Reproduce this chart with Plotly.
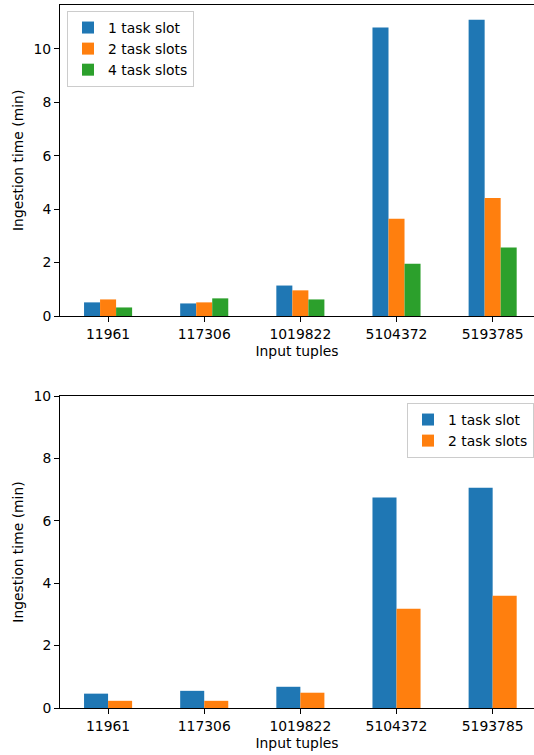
import plotly.graph_objects as go

categories = ["11961", "117306", "1019822", "5104372", "5193785"]

top_series_names = ["1 task slot", "2 task slots", "4 task slots"]
top_1slot = [0.51, 0.47, 1.14, 10.80, 11.09]
top_2slots = [0.62, 0.51, 0.96, 3.64, 4.42]
top_4slots = [0.32, 0.66, 0.62, 1.96, 2.56]

bottom_series_names = ["1 task slot", "2 task slots"]
bottom_1slot = [0.46, 0.55, 0.68, 6.75, 7.06]
bottom_2slots = [0.23, 0.23, 0.49, 3.18, 3.60]

colors = ["#1f77b4", "#ff7f0e", "#2ca02c"]
FONT = "DejaVu Sans"
FS = 13.9

fig = go.Figure()
for name, vals, c in zip(top_series_names, [top_1slot, top_2slots, top_4slots], colors):
    fig.add_trace(go.Bar(x=categories, y=vals, name=name, marker=dict(color=c, line=dict(width=0)),
                         xaxis="x", yaxis="y", legend="legend", offsetgroup=name))
for name, vals, c in zip(bottom_series_names, [bottom_1slot, bottom_2slots], colors):
    fig.add_trace(go.Bar(x=categories, y=vals, name=name, marker=dict(color=c, line=dict(width=0)),
                         xaxis="x2", yaxis="y2", legend="legend2", offsetgroup=name))

H_PLOT = 708.0
def dom(top_px, bot_px):
    return [(H_PLOT - bot_px) / H_PLOT, (H_PLOT - top_px) / H_PLOT]

axis_common = dict(showline=True, linecolor="black", linewidth=1, ticks="outside",
                   ticklen=5, tickwidth=1, tickcolor="black", showgrid=False, zeroline=False,
                   automargin=False,
                   tickfont=dict(family=FONT, size=FS, color="black"))

xcommon = dict(axis_common, type="category", range=[-0.5, 4.43], mirror=True,
               title=dict(text="Input tuples", font=dict(family=FONT, size=FS, color="black"), standoff=5))
ycommon = dict(axis_common, mirror=False,
               title=dict(text="Ingestion time (min)", font=dict(family=FONT, size=FS, color="black"), standoff=6))

fig.update_layout(
    width=534, height=755,
    margin=dict(l=60, r=0, t=0, b=47, autoexpand=False),
    plot_bgcolor="white", paper_bgcolor="white",
    barmode="group", bargap=0.5, bargroupgap=0,
    font=dict(family=FONT, size=FS, color="black"),
    xaxis=dict(xcommon, anchor="y", domain=[0, 1]),
    yaxis=dict(ycommon, anchor="x", domain=dom(4.7, 316), range=[0, 11.65], tickvals=[0, 2, 4, 6, 8, 10]),
    xaxis2=dict(xcommon, anchor="y2", domain=[0, 1]),
    yaxis2=dict(ycommon, anchor="x2", domain=dom(396, 708), range=[0, 10], tickvals=[0, 2, 4, 6, 8, 10]),
    legend=dict(x=0.0148, y=(H_PLOT - 11) / H_PLOT, xanchor="left", yanchor="top",
                bgcolor="rgba(255,255,255,0.8)", bordercolor="#cccccc", borderwidth=1,
                font=dict(family=FONT, size=FS, color="black"), tracegroupgap=4),
    legend2=dict(x=1.0, y=(H_PLOT - 403) / H_PLOT, xanchor="right", yanchor="top",
                 bgcolor="rgba(255,255,255,0.8)", bordercolor="#cccccc", borderwidth=1,
                 font=dict(family=FONT, size=FS, color="black"), tracegroupgap=4),
    showlegend=True,
)

fig.write_html("out.html", config={"displayModeBar": False},
               post_script="document.body.style.margin='0';document.body.style.overflow='hidden';")
